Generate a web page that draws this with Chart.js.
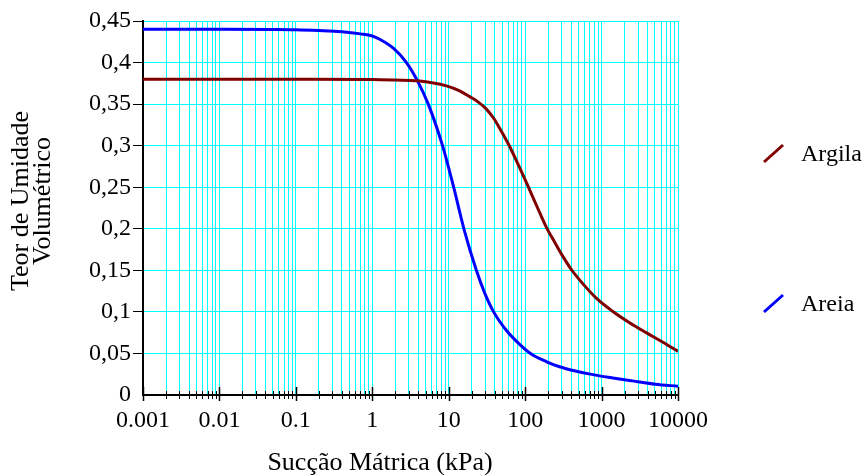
<!DOCTYPE html>
<html>
<head>
<meta charset="utf-8">
<script src="https://cdn.jsdelivr.net/npm/chart.js@4.4.0/dist/chart.umd.min.js"></script>
<style>
  html, body { margin: 0; padding: 0; background: #fff; }
</style>
</head>
<body>
<canvas id="chart" width="864" height="475"></canvas>
<script>
// curvas de retencao (succao em kPa, teor de umidade volumetrico)
var SUCCAO_ARGILA = [0.001, 0.1, 1, 2, 3.9, 9.33, 13.9, 18.8, 23.9, 31.1, 38.7, 46.4, 62.7, 84.7, 109.4, 145.6, 189, 243, 313, 402, 515, 853, 1406, 2322, 3838, 6343, 10000];
var TEOR_ARGILA   = [0.38, 0.38, 0.3797, 0.379, 0.378, 0.372, 0.366, 0.359, 0.353, 0.344, 0.333, 0.321, 0.299, 0.2735, 0.251, 0.225, 0.202, 0.184, 0.1665, 0.151, 0.1385, 0.1165, 0.1005, 0.087, 0.075, 0.0635, 0.0525];

var SUCCAO_AREIA = [0.001, 0.01, 0.05, 0.1, 0.2, 0.4, 0.7, 1, 1.25, 1.9, 2.8, 3.9, 5.4, 8.3, 11.6, 15.8, 23, 29.6, 38.7, 57.3, 84.7, 121.6, 191, 282, 422, 631, 942, 1406, 2541, 5082, 10000];
var TEOR_AREIA   = [0.44, 0.44, 0.4398, 0.4395, 0.4385, 0.437, 0.4345, 0.432, 0.428, 0.417, 0.40, 0.378, 0.35, 0.30, 0.25, 0.20, 0.15, 0.1226, 0.100, 0.0773, 0.061, 0.049, 0.040, 0.034, 0.0295, 0.026, 0.023, 0.0205, 0.017, 0.013, 0.0105];

var SERIES = ['Argila', 'Areia'];
var COLORS = ['#800000', '#0000ff'];
var X_TICKS = [0.001, 0.01, 0.1, 1, 10, 100, 1000, 10000];
var Y_TICKS = [0, 0.05, 0.1, 0.15, 0.2, 0.25, 0.3, 0.35, 0.4, 0.45];
var X_TITLE = 'Sucção Mátrica (kPa)';
var Y_TITLE = ['Teor de Umidade', 'Volumétrico'];

var FONT = "'Liberation Serif', 'Times New Roman', Times, serif";
var GRID = '#00ffff';

function pts(xs, ys) {
  return xs.map(function(x, i) { return { x: x, y: ys[i] }; });
}

// marcas do eixo x cruzando a linha do eixo
var xTickMarks = {
  id: 'xTickMarks',
  beforeDatasetsDraw: function(chart) {
    var c = chart.ctx, sx = chart.scales.x, y0 = chart.chartArea.bottom;
    c.save();
    c.strokeStyle = '#000';
    sx.ticks.forEach(function(t) {
      var major = X_TICKS.indexOf(t.value) >= 0;
      var px = Math.round(sx.getPixelForValue(t.value)) + 0.5;
      c.lineWidth = major ? 1.5 : 1;
      c.beginPath();
      c.moveTo(px, y0 - (major ? 8 : 4));
      c.lineTo(px, y0 + (major ? 6 : 4));
      c.stroke();
    });
    c.restore();
  }
};

// titulos dos eixos e legenda
var extras = {
  id: 'extras',
  afterDraw: function(chart) {
    var c = chart.ctx;
    c.save();
    c.fillStyle = '#000';
    c.font = '26px ' + FONT;
    c.textAlign = 'center';
    c.textBaseline = 'middle';
    c.fillText(X_TITLE, 380, 463);

    c.save();
    c.translate(21, 201);
    c.rotate(-Math.PI / 2);
    c.fillText(Y_TITLE[0], 0, 0);
    c.restore();
    c.save();
    c.translate(43, 201);
    c.rotate(-Math.PI / 2);
    c.fillText(Y_TITLE[1], 0, 0);
    c.restore();

    var rows = [154, 304];
    c.font = '24px ' + FONT;
    c.textAlign = 'left';
    chart.data.datasets.forEach(function(ds, i) {
      var yc = rows[i];
      c.strokeStyle = ds.borderColor;
      c.lineWidth = 3;
      c.beginPath();
      c.moveTo(764, yc + 8);
      c.lineTo(783, yc - 9);
      c.stroke();
      c.fillText(ds.label, 801, yc + 1);
    });
    c.restore();
  }
};

Chart.defaults.color = '#000';
Chart.defaults.borderColor = GRID;
Chart.defaults.font.family = FONT;
Chart.defaults.font.size = 24;

var chart = new Chart(document.getElementById('chart'), {
  type: 'line',
  data: {
    datasets: [
      { label: SERIES[0], data: pts(SUCCAO_ARGILA, TEOR_ARGILA), borderColor: COLORS[0] },
      { label: SERIES[1], data: pts(SUCCAO_AREIA, TEOR_AREIA), borderColor: COLORS[1] }
    ]
  },
  options: {
    responsive: false,
    animation: false,
    layout: { padding: { top: 21, right: 186, left: 0, bottom: 0 } },
    elements: {
      point: { radius: 0 },
      line: { borderWidth: 3, fill: false, cubicInterpolationMode: 'monotone' }
    },
    plugins: {
      legend: { display: false },
      tooltip: { enabled: false }
    },
    scales: {
      x: {
        type: 'logarithmic',
        min: 0.001,
        max: 10000,
        afterBuildTicks: function(scale) {
          var ticks = [];
          X_TICKS.forEach(function(v, i) {
            if (i == X_TICKS.length - 1) {
              ticks.push({ value: v });
              return;
            }
            for (var m = 1; m < 10; m++) ticks.push({ value: m == 1 ? v : +(v * m).toPrecision(6) });
          });
          scale.ticks = ticks;
        },
        afterFit: function(scale) { scale.height = 80; },
        grid: { color: GRID, lineWidth: 1, drawTicks: false },
        border: { color: '#000', width: 2 },
        ticks: {
          autoSkip: false,
          maxRotation: 0,
          minRotation: 0,
          padding: 11,
          callback: function(value) {
            return X_TICKS.indexOf(value) >= 0 ? String(value) : '';
          }
        }
      },
      y: {
        type: 'linear',
        min: 0,
        max: 0.45,
        afterBuildTicks: function(scale) {
          scale.ticks = Y_TICKS.map(function(v) { return { value: v }; });
        },
        afterFit: function(scale) { scale.width = 143; },
        grid: {
          color: GRID,
          lineWidth: 1,
          tickLength: 10,
          tickColor: function(ctx) { return ctx.tick && ctx.tick.value === 0 ? 'rgba(0,0,0,0)' : '#000'; }
        },
        border: { color: '#000', width: 2 },
        ticks: {
          padding: 2,
          callback: function(value) {
            return String(+value.toFixed(2)).replace('.', ',');
          }
        }
      }
    }
  },
  plugins: [xTickMarks, extras]
});
</script>
</body>
</html>
